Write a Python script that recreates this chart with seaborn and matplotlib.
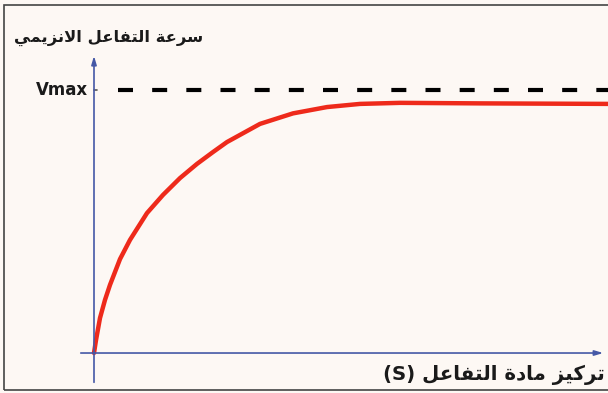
import matplotlib
matplotlib.use("Agg")
import matplotlib.pyplot as plt
import matplotlib.patches as mpatches
import seaborn as sns
import pandas as pd

# Values (substrate concentration vs reaction rate)
substrate = [0, 0.04, 0.12, 0.22, 0.32, 0.52, 0.72, 1.06, 1.38, 1.72, 2.06,
             2.38, 2.66, 3.32, 3.98, 4.66, 5.32, 6.12, 7.72, 10.3]
rate = [0, 0.49, 1.33, 2.02, 2.59, 3.57, 4.30, 5.32, 6.01, 6.65, 7.19,
        7.64, 8.02, 8.71, 9.11, 9.35, 9.47, 9.51, 9.49, 9.47]
vmax = 10
vmax_label = "Vmax"
ylabel_ar = "سرعة التفاعل الانزيمي"
xlabel_ar = "تركيز مادة التفاعل"
xlabel_sym = "(S)"

# Arabic presentation forms: isolated, final, initial, medial
FORMS = {
    'ا': ('\uFE8D', '\uFE8E', None, None),
    'ة': ('\uFE93', '\uFE94', None, None),
    'ت': ('\uFE95', '\uFE96', '\uFE97', '\uFE98'),
    'د': ('\uFEA9', '\uFEAA', None, None),
    'ر': ('\uFEAD', '\uFEAE', None, None),
    'ز': ('\uFEAF', '\uFEB0', None, None),
    'س': ('\uFEB1', '\uFEB2', '\uFEB3', '\uFEB4'),
    'ع': ('\uFEC9', '\uFECA', '\uFECB', '\uFECC'),
    'ف': ('\uFED1', '\uFED2', '\uFED3', '\uFED4'),
    'ك': ('\uFED9', '\uFEDA', '\uFEDB', '\uFEDC'),
    'ل': ('\uFEDD', '\uFEDE', '\uFEDF', '\uFEE0'),
    'م': ('\uFEE1', '\uFEE2', '\uFEE3', '\uFEE4'),
    'ن': ('\uFEE5', '\uFEE6', '\uFEE7', '\uFEE8'),
    'ي': ('\uFEF1', '\uFEF2', '\uFEF3', '\uFEF4'),
}


def rtl(text):
    # join the letters and put them in visual (left to right) order
    out = []
    prev_joins = False
    i = 0
    while i < len(text):
        c = text[i]
        if c not in FORMS:
            out.append(c)
            prev_joins = False
            i += 1
            continue
        if c == 'ل' and i + 1 < len(text) and text[i + 1] == 'ا':
            out.append('\uFEFC' if prev_joins else '\uFEFB')
            prev_joins = False
            i += 2
            continue
        iso, fin, ini, med = FORMS[c]
        nxt = text[i + 1] if i + 1 < len(text) else ''
        to_next = ini is not None and nxt in FORMS
        if prev_joins and to_next:
            out.append(med)
        elif prev_joins:
            out.append(fin)
        elif to_next:
            out.append(ini)
        else:
            out.append(iso)
        prev_joins = ini is not None
        i += 1
    return ''.join(reversed(out))


sns.set_style("white")
plt.rcParams['font.family'] = ['DejaVu Sans']

bg = "#fdf8f4"
axis_blue = "#4558a6"

fig = plt.figure(figsize=(6.08, 3.93), dpi=100, facecolor=bg)
ax = fig.add_axes([0, 0, 1, 1])
ax.set_facecolor(bg)
ax.set_xlim(-1.88, 10.28)
ax.set_ylim(-1.52, 13.42)
ax.axis("off")

df = pd.DataFrame({"S": substrate, "V": rate})

# axes drawn as arrows
ax.annotate("", xy=(0, 11.4), xytext=(0, -1.22),
            arrowprops=dict(arrowstyle="-|>,head_length=0.5,head_width=0.15",
                            color=axis_blue, lw=1.2))
ax.annotate("", xy=(10.24, 0), xytext=(-0.32, 0),
            arrowprops=dict(arrowstyle="-|>,head_length=0.5,head_width=0.15",
                            color=axis_blue, lw=1.2))

# Vmax dashed line
ax.plot([0.48, 10.3], [vmax, vmax], color="black", lw=3, dashes=(3.6, 4.6))
ax.plot([0, 0.06], [vmax, vmax], color="#555555", lw=1.2)

sns.lineplot(data=df, x="S", y="V", ax=ax, color="#ee2a1b", lw=3.2,
             solid_joinstyle="round", solid_capstyle="round")

ax.text(-0.12, vmax, vmax_label, ha="right", va="center",
        fontsize=12, fontweight="bold", color="#1a1a1a")
ax.text(0.178, 0.903, rtl(ylabel_ar), transform=ax.transAxes,
        ha="center", va="center", fontsize=11.8, fontweight="bold", color="#1a1a1a")
ax.text(0.995, 0.045, xlabel_sym + " " + rtl(xlabel_ar), transform=ax.transAxes,
        ha="right", va="center", fontsize=14.2, fontweight="bold", color="#1a1a1a")

# scan frame
fig.patches.append(mpatches.Rectangle((4 / 608, 3 / 393), 1.2, 1 - 8 / 393,
                                      transform=fig.transFigure, fill=False,
                                      edgecolor="#444444", lw=1.2))

fig.savefig("out.png", dpi=100, facecolor=bg)
